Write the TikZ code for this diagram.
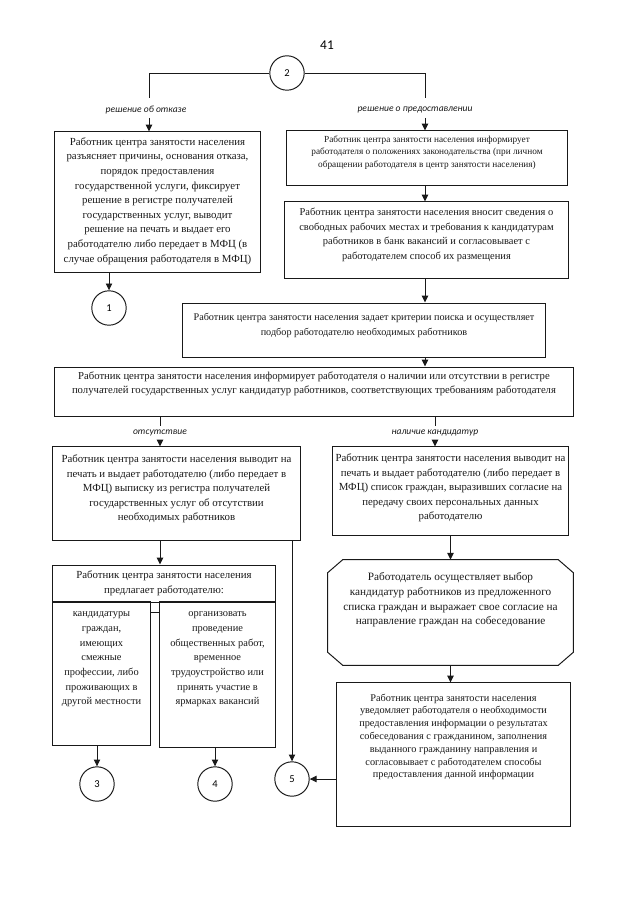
\documentclass[tikz,border=0pt]{standalone}
\usepackage{fontspec}
\setmainfont{Liberation Serif}
\newfontfamily\lblfont{Carlito}
\usetikzlibrary{arrows.meta,positioning}
\definecolor{ink}{RGB}{25,25,25}
\tikzset{
  >={Triangle[length=1.7mm,width=1.6mm]},
  box/.style={draw=ink,line width=0.7pt,inner sep=0pt},
  txt/.style={font=\fontsize{#1}{10.4}\selectfont,align=center,inner sep=0pt,text=ink},
  txt/.default=7.7,
  lbl/.style={font=\lblfont\itshape\fontsize{6.8}{8}\selectfont,inner sep=0pt,text=ink},
  num/.style={circle,draw=ink,line width=0.7pt,minimum size=8.6mm,inner sep=0pt,
    font=\lblfont\fontsize{7.5}{9}\selectfont},
  arr/.style={->,line width=0.7pt,draw=ink},
  link/.style={line width=0.7pt,draw=ink},
}
\begin{document}
\begin{tikzpicture}[x=0.025cm,y=-0.025cm]
  \useasboundingbox (0,0) rectangle (640,905);
  \node[font=\lblfont\fontsize{9.5}{11}\selectfont] (page) at (327,45) {41};
  % start
  \node[num] (two) at (287,73) {2};
  \coordinate (l-top) at (149,98);  \coordinate (l-bot) at (149,118);
  \coordinate (r-top) at (425,98);  \coordinate (r-bot) at (425,118);
  \node[lbl] (lbl-refuse) at (146,110) {решение об отказе};
  \node[lbl] (lbl-grant) at (415,110) {решение о предоставлении};
  \draw[link] (two.west) -| (l-top);
  \draw[link] (two.east) -| (r-top);
  % refusal branch
  \node[box,minimum width=5.125cm,minimum height=3.5cm] (refuse) at (157.5,202) {};
  \node[txt] (t-refuse) at (157.5,201) {Работник центра занятости населения\\
    разъясняет причины, основания отказа,\\ порядок предоставления\\
    государственной услуги, фиксирует\\ решение в регистре получателей\\
    государственных услуг, выводит\\ решение на печать и выдает его\\
    работодателю либо передает в МФЦ (в\\ случае обращения работодателя в МФЦ)};
  \node[num] (one) at (109,308) {1};
  \draw[arr] (l-bot) -- (l-bot |- refuse.north);
  \draw[arr] (refuse.south -| one) -- (one.north);
  % grant branch
  \node[box,minimum width=7cm,minimum height=1.35cm] (inform) at (427,158) {};
  \node[txt,font=\fontsize{6.6}{8.9}\selectfont] (t-inform) at (427,152.5)
    {Работник центра занятости населения информирует\\
    работодателя о положениях законодательства (при личном\\
    обращении работодателя в центр занятости населения)};
  \node[box,minimum width=7.075cm,minimum height=1.9cm] (vacancy) at (426.5,240) {};
  \node[txt=7.45] (t-vacancy) at (426.5,235) {Работник центра занятости населения вносит сведения о\\
    свободных рабочих местах и требования к кандидатурам\\
    работников в банк вакансий и согласовывает с\\
    работодателем способ их размещения};
  \node[box,minimum width=9.05cm,minimum height=1.35cm] (criteria) at (364,330) {};
  \node[txt=7.25] (t-criteria) at (364,325.5) {Работник центра занятости населения задает критерии поиска и осуществляет\\
    подбор работодателю необходимых работников};
  \node[box,minimum width=12.95cm,minimum height=1.225cm] (result) at (314,391.5) {};
  \node[txt=7.6] (t-result) at (314,384) {Работник центра занятости населения информирует работодателя о наличии или отсутствии в регистре\\
    получателей государственных услуг кандидатур работников, соответствующих требованиям работодателя};
  \draw[arr] (r-bot) -- (r-bot |- inform.north);
  \draw[arr] (inform.south -| r-bot) -- (vacancy.north -| r-bot);
  \draw[arr] (vacancy.south -| r-bot) -- (criteria.north -| r-bot);
  \draw[arr] (criteria.south -| r-bot) -- (result.north -| r-bot);
  % absence / presence
  \coordinate (a-top) at (160,426); \coordinate (a-bot) at (160,440);
  \coordinate (p-top) at (435,426); \coordinate (p-bot) at (435,440);
  \node[lbl] (lbl-absent) at (160,433) {отсутствие};
  \node[lbl] (lbl-present) at (435,433) {наличие кандидатур};
  \draw[link] (result.south -| a-top) -- (a-top);
  \draw[link] (result.south -| p-top) -- (p-top);
  \node[box,minimum width=6.175cm,minimum height=2.325cm] (absent) at (176.5,493.5) {};
  \node[txt] (t-absent) at (176.5,489) {Работник центра занятости населения выводит на\\
    печать и выдает работодателю (либо передает в\\
    МФЦ) выписку из регистра получателей\\
    государственных услуг об отсутствии\\ необходимых работников};
  \node[box,minimum width=5.875cm,minimum height=2.2cm] (present) at (450.5,491) {};
  \node[txt] (t-present) at (450.5,488) {Работник центра занятости населения выводит на\\
    печать и выдает работодателю (либо передает в\\
    МФЦ) список граждан, выразивших согласие на\\
    передачу своих персональных данных\\ работодателю};
  \draw[arr] (a-bot) -- (a-bot |- absent.north);
  \draw[arr] (p-bot) -- (p-bot |- present.north);
  % offers
  \node[box,txt,minimum width=5.55cm,minimum height=0.925cm] (offer) at (164,583.5)
    {Работник центра занятости населения\\ предлагает работодателю:};
  \node[box,minimum width=2.425cm,minimum height=3.575cm] (g1) at (101.5,673.5) {};
  \node[box,minimum width=2.875cm,minimum height=3.625cm] (g2) at (217.5,674.5) {};
  \node[txt=7.4] (t-g1) at (101.5,659.5) {кандидатуры\\ граждан,\\ имеющих\\ смежные\\
    профессии, либо\\ проживающих в\\ другой местности};
  \node[txt=7.4] (t-g2) at (217.5,659.5) {организовать\\ проведение\\ общественных работ,\\
    временное\\ трудоустройство или\\ принять участие в\\ ярмарках вакансий};
  \coordinate (gap) at (155,612);
  \draw[link] (gap -| g1.east) -- (gap -| g2.west);
  \draw[arr] (absent.south -| a-bot) -- (offer.north -| a-bot);
  \node[num] (three) at (97,784) {3};
  \node[num] (four) at (215,784) {4};
  \node[num] (five) at (292,779) {5};
  \draw[arr] (g1.south -| three) -- (three.north);
  \draw[arr] (g2.south -| four) -- (four.north);
  \draw[arr] (absent.south -| five) -- (five.north);
  % employer choice
  \node[inner sep=0pt,minimum width=6.125cm,minimum height=2.625cm] (choice) at (450.5,612.5) {};
  \draw[link] ([xshift=0.375cm]choice.north west) -- ([xshift=-0.375cm]choice.north east)
    -- ([yshift=-0.325cm]choice.north east) -- ([yshift=0.325cm]choice.south east)
    -- ([xshift=-0.375cm]choice.south east) -- ([xshift=0.375cm]choice.south west)
    -- ([yshift=0.325cm]choice.south west) -- ([yshift=-0.325cm]choice.north west) -- cycle;
  \node[txt=8] (t-choice) at (450.5,600) {Работодатель осуществляет выбор\\
    кандидатур работников из предложенного\\
    списка граждан и выражает свое согласие на\\
    направление граждан на собеседование};
  \node[box,minimum width=5.825cm,minimum height=3.575cm] (notify) at (453.5,754.5) {};
  \node[txt,font=\fontsize{7.3}{9.1}\selectfont] (t-notify) at (453.5,737) {Работник центра занятости населения\\
    уведомляет работодателя о необходимости\\
    предоставления информации о результатах\\
    собеседования с гражданином, заполнения\\
    выданного гражданину направления и\\
    согласовывает с работодателем способы\\
    предоставления данной информации};
  \draw[arr] (present.south) -- (choice.north);
  \draw[arr] (choice.south) -- (choice.south |- notify.north);
  \draw[arr] (five -| notify.west) -- (five.east);
\end{tikzpicture}
\end{document}
